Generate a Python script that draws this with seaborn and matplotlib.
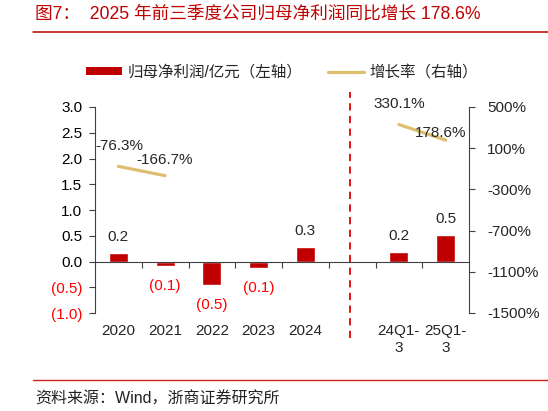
import numpy as np
import pandas as pd
import matplotlib
matplotlib.use('Agg')
import matplotlib.pyplot as plt
from matplotlib.lines import Line2D
from matplotlib.patches import Patch
from matplotlib.transforms import blended_transform_factory
import seaborn as sns

# Chart data
periods = ['2020', '2021', '2022', '2023', '2024', '', '24Q1-3', '25Q1-3']
bar_periods = ['2020', '2021', '2022', '2023', '2024', '24Q1-3', '25Q1-3']
net_profit = [0.16, -0.09, -0.46, -0.13, 0.28, 0.19, 0.51]  # 亿元
growth_periods = [['2020', '2021'], ['24Q1-3', '25Q1-3']]
growth_values = [[-76.3, -166.7], [330.1, 178.6]]  # %
left_ticks = [3.0, 2.5, 2.0, 1.5, 1.0, 0.5, 0.0, -0.5, -1.0]
right_ticks = [500, 100, -300, -700, -1100, -1500]

RED = '#C00000'
TAN = '#DDBF6F'
AXC = '#404040'
FS = 11

sns.set_theme(style='white')
plt.rcParams['font.family'] = ['Liberation Sans', 'Noto Sans CJK SC', 'DejaVu Sans']
plt.rcParams['axes.unicode_minus'] = False

W, H = 548, 411
fig = plt.figure(figsize=(W / 100, H / 100), dpi=100)
ax = fig.add_axes([95 / W, 1 - 313 / H, 374 / W, 206 / H])

df = pd.DataFrame({'period': bar_periods, 'profit': net_profit})
sns.barplot(data=df, x='period', y='profit', order=periods, color=RED,
            width=0.41, saturation=1, ax=ax)

ax.set_xlim(-0.5, len(periods) - 0.5)
ax.set_ylim(-1.0, 3.0)
ax.set_xlabel('')
ax.set_ylabel('')

# left axis
ax.set_yticks(left_ticks)
ax.set_yticklabels([f'{v:.1f}' if v >= 0 else f'({-v:.1f})' for v in left_ticks])
for lab, v in zip(ax.get_yticklabels(), left_ticks):
    lab.set_color('red' if v < 0 else 'black')
ax.tick_params(axis='y', left=True, direction='out', length=4, width=0.8,
               color=AXC, labelsize=FS, pad=5)

# x axis: spine at zero, ticks at category boundaries, labels at bottom
ax.spines['bottom'].set_position(('data', 0))
ax.set_xticks(np.arange(0.5, len(periods) - 1, 1.0))
ax.set_xticklabels([])
ax.tick_params(axis='x', bottom=True, direction='out', length=4, width=0.8, color=AXC)
trans = blended_transform_factory(ax.transData, ax.transAxes)
for i, p in enumerate(periods):
    txt = p.replace('Q1-', 'Q1-\n') if 'Q' in p else p
    ax.text(i, -0.052, txt, transform=trans, ha='center', va='top',
            fontsize=FS, linespacing=1.3)

for sp in ['top', 'right']:
    ax.spines[sp].set_visible(False)
for sp in ['left', 'bottom']:
    ax.spines[sp].set_color(AXC)
    ax.spines[sp].set_linewidth(0.8)

# bar value labels
for p, v in zip(bar_periods, net_profit):
    i = periods.index(p)
    if v >= 0:
        ax.annotate(f'{v:.1f}', (i, v), xytext=(0, 11.5), textcoords='offset points',
                    ha='center', va='center', fontsize=FS)
    else:
        ax.annotate(f'({-v:.1f})', (i, v), xytext=(0, -14.5), textcoords='offset points',
                    ha='center', va='center', fontsize=FS, color='red')

# divider
ax.axvline(4.95, ymin=-0.12, ymax=1.075, clip_on=False, color='#E00000',
           lw=1.3, linestyle=(0, (4, 3)))

# right axis: growth
ax2 = ax.twinx()
ax2.set_position(ax.get_position())
gdf = pd.DataFrame({
    'pos': [periods.index(p) for seg in growth_periods for p in seg],
    'growth': [g for seg in growth_values for g in seg],
    'seg': [k for k, seg in enumerate(growth_periods) for _ in seg],
})
sns.lineplot(data=gdf, x='pos', y='growth', units='seg', estimator=None,
             color=TAN, lw=2.3, ax=ax2, legend=False)
ax2.set_ylim(-1500, 500)
ax2.set_xlim(-0.5, len(periods) - 0.5)
ax2.set_yticks(right_ticks)
ax2.set_yticklabels([f'{v}%' for v in right_ticks])
ax2.tick_params(axis='y', right=True, direction='out', length=4, width=0.8,
                color=AXC, labelsize=FS, pad=9)
ax2.set_ylabel('')
ax2.set_xlabel('')
for sp in ['top', 'left', 'bottom']:
    ax2.spines[sp].set_visible(False)
ax2.spines['right'].set_color(AXC)
ax2.spines['right'].set_linewidth(0.8)

label_offsets = [(0.7, 15), (0, 11), (0, 15), (-3.6, 5)]
k = 0
for seg_p, seg_v in zip(growth_periods, growth_values):
    for p, v in zip(seg_p, seg_v):
        ax2.annotate(f'{v:.1f}%', (periods.index(p), v), xytext=label_offsets[k],
                     textcoords='offset points', ha='center', va='center', fontsize=FS)
        k += 1

# legend
handles = [Patch(facecolor=RED, edgecolor='none'), Line2D([], [], color=TAN, lw=2.3)]
fig.legend(handles, ['归母净利润/亿元（左轴）', '增长率（右轴）'], loc='center',
           bbox_to_anchor=(282 / W, 1 - 72 / H), ncol=2, frameon=False,
           fontsize=11.2, handlelength=2.3, handleheight=0.5, handletextpad=0.35,
           columnspacing=1.7)

# title and source
fig.text(35 / W, 1 - 14 / H, '图7：  2025 年前三季度公司归母净利润同比增长 178.6%',
         color=RED, fontsize=12.7, va='center', ha='left')
fig.add_artist(Line2D([33 / W, 1], [1 - 31.7 / H] * 2, color=RED, lw=1.1))
fig.add_artist(Line2D([33 / W, 1], [1 - 380 / H] * 2, color='#D02020', lw=1.0))
fig.text(35 / W, 1 - 399 / H, '资料来源：Wind，浙商证券研究所', color='#222222',
         fontsize=11.5, va='center', ha='left')

fig.savefig('out.png', dpi=100)
